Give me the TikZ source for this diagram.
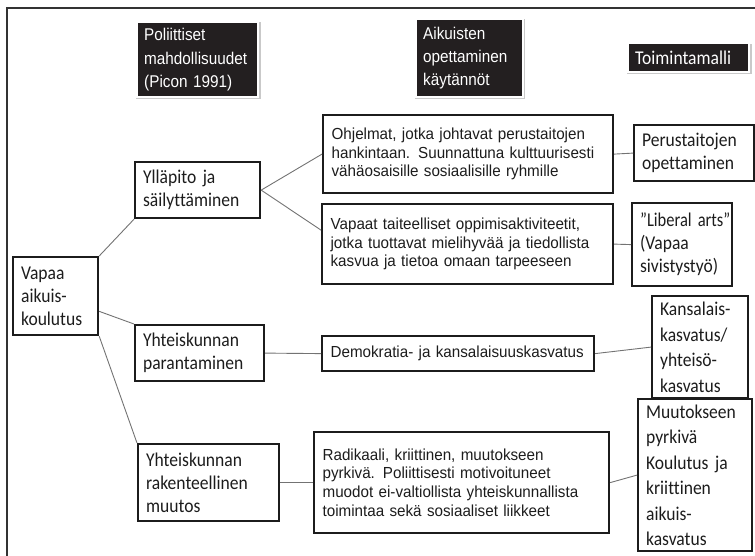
\documentclass[tikz,border=0pt]{standalone}
\usepackage{graphicx}
\usepackage{fontspec}
\setmainfont{Liberation Sans}
\newfontfamily\calib[FakeStretch=0.9, Ligatures={NoCommon}]{Carlito}
\newfontfamily\headfont[FakeStretch=0.9]{Liberation Sans}
\newfontfamily\bodyfont[FakeStretch=0.95]{Liberation Sans}
\usetikzlibrary{calc,shadows}

\definecolor{ink}{HTML}{1C1C1C}
\definecolor{headfill}{HTML}{231F20}

\tikzset{
  x=1pt, y=-1pt,
  box/.style={draw=ink, line width=2.2pt, anchor=north west, inner xsep=8pt,
    inner ysep=0pt, align=left, text=ink},
  cbox/.style={box, font=\calib\fontsize{19.5}{23}\selectfont},
  wbox/.style={box, font=\calib\fontsize{19.5}{25.5}\selectfont},
  abox/.style={box, font=\bodyfont\fontsize{16}{18.7}\selectfont, inner xsep=8.5pt},
  head/.style={fill=headfill, draw=white, line width=2.4pt, text=white,
    anchor=north west, align=left, inner xsep=7pt, inner ysep=0pt,
    drop shadow={shadow xshift=0.6pt, shadow yshift=-0.9pt, opacity=0.3,
      fill=black!70, shadow scale=1.03}},
  ahead/.style={head, font=\headfont\fontsize{17}{23.3}\selectfont},
  chead/.style={head, font=\calib\fontsize{19.5}{23}\selectfont},
  link/.style={draw=black!55, line width=0.9pt},
  frame/.style={draw=black!80, line width=2.4pt},
}

\begin{document}
\begin{tikzpicture}
\useasboundingbox (0,0) rectangle (755,555);

% outer frame (only its top and left edges fall on the page)
\draw[frame] (7,570) -- (7,8) -- (770,8);

% column headings
\node[ahead, minimum width=121, minimum height=75, text width=107] (h1) at (136,21)
  {Poliittiset\\mahdollisuudet\\(Picon 1991)};
\node[ahead, minimum width=107, minimum height=78, text width=93] (h2) at (415,18)
  {Aikuisten\\opettaminen\\käytännöt};
\node[chead, minimum width=121, minimum height=29, text width=107] (h3) at (627,42)
  {Toimintamalli};

% root
\node[cbox, minimum width=85, minimum height=78, text width=69] (vapaa) at (12,256)
  {Vapaa\\aikuis-\\koulutus};

% political possibilities
\node[cbox, minimum width=125, minimum height=56, text width=109] (yllapito) at (134,161)
  {Ylläpito ja\\säilyttäminen};
\node[cbox, minimum width=129, minimum height=56, text width=113] (parant) at (134,324)
  {Yhteiskunnan\\parantaminen};
\node[cbox, minimum width=141, minimum height=77, text width=125] (rakent) at (137,443)
  {Yhteiskunnan\\rakenteellinen\\muutos};

% teaching practices
\node[abox, minimum width=290, minimum height=78, text width=273] (ohjelmat) at (322,114)
  {Ohjelmat, jotka johtavat perustaitojen\\hankintaan. Suunnattuna kulttuurisesti\\vähäosaisille sosiaalisille ryhmille};
\node[abox, minimum width=291, minimum height=80, text width=274] (vapaat) at (321,203)
  {Vapaat taiteelliset oppimisaktiviteetit,\\jotka tuottavat mielihyvää ja tiedollista\\kasvua ja tietoa omaan tarpeeseen};
\node[abox, minimum width=272, minimum height=35, text width=255] (demo) at (321,335)
  {Demokratia- ja kansalaisuuskasvatus};
\node[abox, minimum width=295, minimum height=101, text width=278] (radik) at (313,431)
  {Radikaali, kriittinen, muutokseen\\pyrkivä. Poliittisesti motivoituneet\\muodot ei-valtiollista yhteiskunnallista\\toimintaa sekä sosiaaliset liikkeet};

% models of action
\node[cbox, minimum width=120, minimum height=56, text width=104] (perus) at (633,124)
  {Perustaitojen\\opettaminen};
\node[cbox, minimum width=100, minimum height=83, text width=84] (liberal) at (631,202)
  {\scalebox{0.94}[1]{”Liberal arts”}\\(Vapaa\\sivistystyö)};
\node[wbox, minimum width=96, minimum height=102, text width=80] (kansal) at (651,295)
  {Kansalais-\\kasvatus/\\yhteisö-\\kasvatus};
\node[wbox, minimum width=114, minimum height=152, text width=98] (muutos) at (637,398)
  {Muutokseen\\pyrkivä\\Koulutus ja\\kriittinen\\aikuis-\\kasvatus};

% connectors
\coordinate (vapaaR) at ($(vapaa.north east)!0.69!(vapaa.south east)$);
\coordinate (vapaatL) at ($(vapaat.north west)!0.33!(vapaat.south west)$);

\draw[link] (vapaa.north east) -- (yllapito.south west);
\draw[link] (vapaaR) -- (parant.north west);
\draw[link] (vapaa.south east) -- (rakent.north west);

\draw[link] (yllapito.east) -- (ohjelmat.west);
\draw[link] (yllapito.east) -- (vapaatL);
\draw[link] (parant.east) -- (demo.west);
\draw[link] (rakent.east) -- (radik.west);

\draw[link] (ohjelmat.east) -- (perus.west);
\draw[link] (vapaat.east) -- (liberal.west);
\draw[link] (demo.east) -- (kansal.west);
\draw[link] (radik.east) -- (muutos.west);
\end{tikzpicture}
\end{document}
